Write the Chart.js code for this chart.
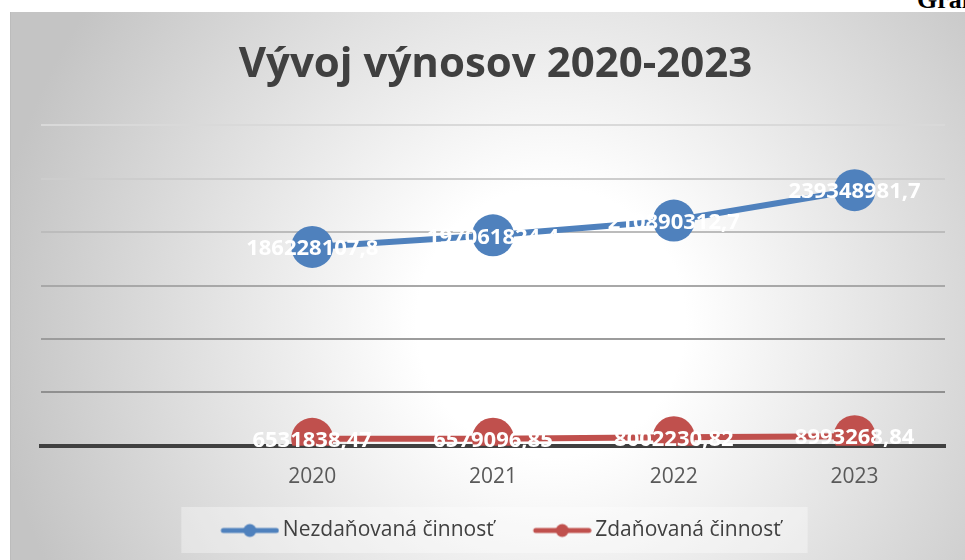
<!DOCTYPE html>
<html>
<head>
<meta charset="utf-8">
<script src="https://cdn.jsdelivr.net/npm/chart.js@4/dist/chart.umd.min.js"></script>
<style>
  html, body { margin: 0; padding: 0; background: #fff; overflow: hidden; }
  body { width: 965px; height: 560px; position: relative; }
  .caption {
    position: absolute; left: 917px; top: -15px;
    font: bold 26px "Liberation Serif", serif; color: #000; white-space: nowrap;
  }
  .frame {
    position: absolute; left: 10px; top: 12px; width: 955px; height: 548px;
    background: radial-gradient(circle 560px at 540px 310px, #ffffff 0%, #ffffff 24%, #c4c4c4 100%);
    border-left: 1px solid #bcbcbc;
  }
  canvas { position: absolute; left: 0; top: 0; }
</style>
</head>
<body>
<div class="caption">Graf 1</div>
<div class="frame"><canvas id="chart" width="955" height="548"></canvas></div>
<script>
const years = ["", "2020", "2021", "2022", "2023"];
const untaxed = [null, 186228107.8, 197061824.4, 210890312.7, 239348981.7];
const taxed = [null, 6531838.47, 6579096.85, 8002230.82, 8993268.84];
const yTicks = [0, 50000000, 100000000, 150000000, 200000000, 250000000, 300000000];

const seriesNames = ["Nezdaňovaná činnosť", "Zdaňovaná činnosť"];
const blue = "#4f81bd";
const red = "#c0504d";
const fontFamily = "'Open Sans', 'Noto Sans', sans-serif";
const legendShift = 9;

const gridColors = {
    300000000: "#d9d9d9",
    250000000: "#cdcdcd",
    200000000: "#bcbcbc",
    150000000: "#a8a8a8",
    100000000: "#9c9c9c",
    50000000: "#909090",
    0: "#404040",
};

// legend marker: short line with a dot, pushed to the right so it sits close to the text
function legendMarker(color) {
    const c = document.createElement("canvas");
    c.width = 94;
    c.height = 16;
    const g = c.getContext("2d");
    g.strokeStyle = color;
    g.lineWidth = 5;
    g.lineCap = "round";
    g.beginPath();
    g.moveTo(38, 8);
    g.lineTo(91, 8);
    g.stroke();
    g.fillStyle = color;
    g.beginPath();
    g.arc(64.5, 8, 6.5, 0, Math.PI * 2);
    g.fill();
    return c;
}
const markers = [legendMarker(blue), legendMarker(red)];

function formatValue(v) {
    return String(v).replace(".", ",");
}

// nudge the legend a little to the left, like in the original
const legendNudge = {
    id: "legendNudge",
    afterLayout(chart) {
        if (!chart.legend) return;
        chart.legend.left -= legendShift;
        chart.legend.right -= legendShift;
    },
};

const legendBox = {
    id: "legendBox",
    beforeDraw(chart) {
        const boxes = chart.legend && chart.legend.legendHitBoxes;
        if (!boxes || !boxes.length) return;
        const left = boxes[0].left - 11;
        const last = boxes[boxes.length - 1];
        const right = last.left + last.width + 27;
        const ctx = chart.ctx;
        ctx.save();
        ctx.fillStyle = "rgba(255,255,255,0.35)";
        ctx.fillRect(left, 495, right - left, 46);
        ctx.restore();
    },
};

const dataLabels = {
    id: "dataLabels",
    afterDatasetsDraw(chart) {
        const ctx = chart.ctx;
        ctx.save();
        ctx.font = "bold 22px " + fontFamily;
        ctx.fillStyle = "#ffffff";
        ctx.textAlign = "center";
        ctx.textBaseline = "middle";
        chart.data.datasets.forEach((ds, i) => {
            const meta = chart.getDatasetMeta(i);
            meta.data.forEach((pt, j) => {
                const v = ds.data[j];
                if (v === null) return;
                ctx.fillText(formatValue(v), pt.x, pt.y + 2);
            });
        });
        ctx.restore();
    },
};

new Chart(document.getElementById("chart"), {
    type: "line",
    data: {
        labels: years,
        datasets: [
            {
                label: seriesNames[0],
                data: untaxed,
                borderColor: blue,
                backgroundColor: blue,
                borderWidth: 6,
                pointRadius: 21,
                pointHoverRadius: 21,
                pointBorderWidth: 0,
                pointBackgroundColor: blue,
            },
            {
                label: seriesNames[1],
                data: taxed,
                borderColor: red,
                backgroundColor: red,
                borderWidth: 6,
                pointRadius: 21,
                pointHoverRadius: 21,
                pointBorderWidth: 0,
                pointBackgroundColor: red,
            },
        ],
    },
    options: {
        responsive: false,
        animation: false,
        layout: { padding: { left: 30, right: 16, top: 0, bottom: 9 } },
        plugins: {
            title: {
                display: true,
                text: "Vývoj výnosov 2020-2023",
                color: "#404040",
                font: { family: fontFamily, size: 42, weight: "bold" },
                padding: { top: 28, bottom: 35 },
            },
            legend: {
                position: "bottom",
                labels: {
                    usePointStyle: true,
                    pointStyleWidth: 80,
                    color: "#404040",
                    padding: 11,
                    font: { family: fontFamily, size: 21 },
                    generateLabels(chart) {
                        const items = Chart.defaults.plugins.legend.labels.generateLabels(chart);
                        items.forEach((it, i) => { it.pointStyle = markers[i]; });
                        return items;
                    },
                },
            },
            tooltip: { enabled: false },
        },
        scales: {
            x: {
                offset: true,
                grid: { display: false, drawTicks: false, offset: true },
                border: { display: true, color: "#404040", width: 4 },
                ticks: { color: "#595959", padding: 19, font: { family: fontFamily, size: 21 } },
            },
            y: {
                min: yTicks[0],
                max: yTicks[yTicks.length - 1],
                afterBuildTicks(scale) { scale.ticks = yTicks.map(v => ({ value: v })); },
                ticks: { display: false },
                grid: {
                    drawTicks: false,
                    lineWidth: 2,
                    color: (c) => gridColors[c.tick.value] || "#bfbfbf",
                },
                border: { display: false },
            },
        },
    },
    plugins: [legendNudge, legendBox, dataLabels],
});
</script>
</body>
</html>
